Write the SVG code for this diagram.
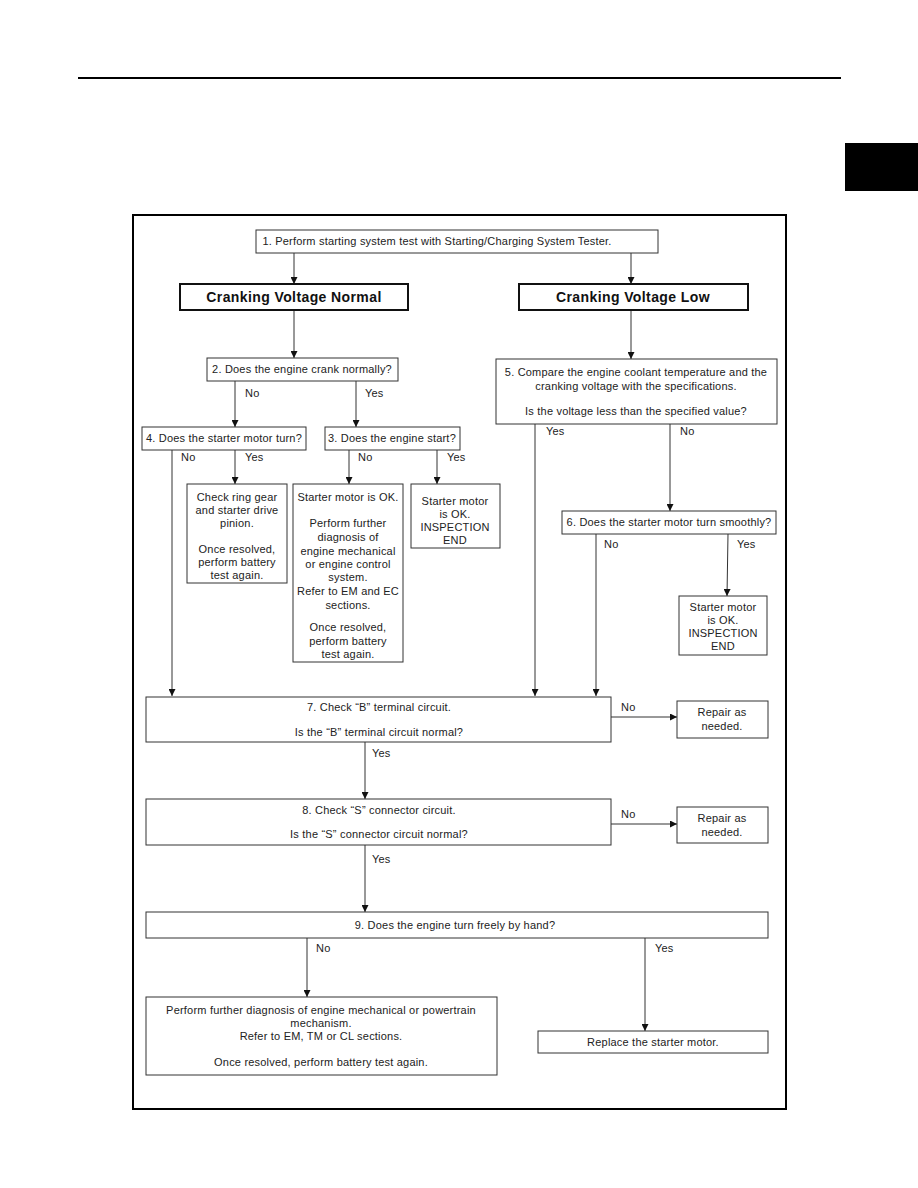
<svg xmlns="http://www.w3.org/2000/svg" width="918" height="1188" viewBox="0 0 918 1188">
<defs>
<marker id="ah" viewBox="0 0 8 8" refX="8" refY="4" markerWidth="8" markerHeight="7" markerUnits="userSpaceOnUse" orient="auto">
<path d="M0,0 L8,4 L0,8 Z" fill="#111"/>
</marker>
<style>
.b{fill:#fff;stroke:#333;stroke-width:1}
.h{fill:#fff;stroke:#111;stroke-width:2}
.t{font-family:"Liberation Sans",Arial,sans-serif;font-size:11px;letter-spacing:0.2px;fill:#222;text-anchor:middle}
.l{font-family:"Liberation Sans",Arial,sans-serif;font-size:11px;letter-spacing:0.2px;fill:#222}
.hb{font-family:"Liberation Sans",Arial,sans-serif;font-size:14px;letter-spacing:0.4px;font-weight:bold;fill:#111;text-anchor:middle}
.c{fill:none;stroke:#333;stroke-width:1;marker-end:url(#ah)}
</style>
</defs>
<rect width="918" height="1188" fill="#fff"/>
<line x1="78" y1="78" x2="841" y2="78" stroke="#000" stroke-width="2"/>
<rect x="845" y="143" width="73" height="48" fill="#000"/>
<rect x="133" y="215" width="653" height="894" fill="none" stroke="#000" stroke-width="2"/>

<g id="connectors">
<path class="c" d="M294,253 V284"/>
<path class="c" d="M631,253 V284"/>
<path class="c" d="M294,310 V358"/>
<path class="c" d="M631,310 V359"/>
<path class="c" d="M235,381 V427"/>
<path class="c" d="M356,381 V427"/>
<path class="c" d="M172,450 V696"/>
<path class="c" d="M235,450 V484"/>
<path class="c" d="M349,450 V484"/>
<path class="c" d="M437,450 V484"/>
<path class="c" d="M535,424 V696"/>
<path class="c" d="M670,424 V511"/>
<path class="c" d="M596,534 V696"/>
<path class="c" d="M728,534 L727,596"/>
<path class="c" d="M611,717 H677"/>
<path class="c" d="M365,742 V799"/>
<path class="c" d="M611,824 H677"/>
<path class="c" d="M365,845 V912"/>
<path class="c" d="M307,938 V997"/>
<path class="c" d="M645,938 V1031"/>
<text class="l" x="245" y="397">No</text>
<text class="l" x="365" y="397">Yes</text>
<text class="l" x="181" y="461">No</text>
<text class="l" x="245" y="461">Yes</text>
<text class="l" x="358" y="461">No</text>
<text class="l" x="447" y="461">Yes</text>
<text class="l" x="546" y="435">Yes</text>
<text class="l" x="680" y="435">No</text>
<text class="l" x="604" y="548">No</text>
<text class="l" x="737" y="548">Yes</text>
<text class="l" x="621" y="711">No</text>
<text class="l" x="372" y="757">Yes</text>
<text class="l" x="621" y="818">No</text>
<text class="l" x="372" y="863">Yes</text>
<text class="l" x="316" y="952">No</text>
<text class="l" x="655" y="952">Yes</text>
</g>

<g id="n1"><rect class="b" x="256" y="230" width="402" height="23"/>
<text class="t" x="437" y="245">1. Perform starting system test with Starting/Charging System Tester.</text></g>

<g id="normal"><rect class="h" x="180" y="284" width="228" height="26"/>
<text class="hb" x="294" y="302">Cranking Voltage Normal</text></g>

<g id="low"><rect class="h" x="519" y="284" width="229" height="26"/>
<text class="hb" x="633" y="302">Cranking Voltage Low</text></g>

<g id="n2"><rect class="b" x="207" y="358" width="191" height="23"/>
<text class="t" x="302" y="373">2. Does the engine crank normally?</text></g>

<g id="n5"><rect class="b" x="496" y="359" width="281" height="65"/>
<text class="t" x="636" y="376">5. Compare the engine coolant temperature and the</text>
<text class="t" x="636" y="390">cranking voltage with the specifications.</text>
<text class="t" x="636" y="415">Is the voltage less than the specified value?</text></g>

<g id="n4"><rect class="b" x="142" y="427" width="164" height="23"/>
<text class="t" x="224" y="442">4. Does the starter motor turn?</text></g>

<g id="n3"><rect class="b" x="325" y="427" width="135" height="23"/>
<text class="t" x="392" y="442">3. Does the engine start?</text></g>

<g id="ring"><rect class="b" x="187" y="484" width="100" height="99"/>
<text class="t" x="237" y="501">Check ring gear</text>
<text class="t" x="237" y="514">and starter drive</text>
<text class="t" x="237" y="527">pinion.</text>
<text class="t" x="237" y="553">Once resolved,</text>
<text class="t" x="237" y="566">perform battery</text>
<text class="t" x="237" y="579">test again.</text></g>

<g id="okfurther"><rect class="b" x="293" y="484" width="110" height="178"/>
<text class="t" x="348" y="501">Starter motor is OK.</text>
<text class="t" x="348" y="527">Perform further</text>
<text class="t" x="348" y="541">diagnosis of</text>
<text class="t" x="348" y="555">engine mechanical</text>
<text class="t" x="348" y="568">or engine control</text>
<text class="t" x="348" y="581">system.</text>
<text class="t" x="348" y="595">Refer to EM and EC</text>
<text class="t" x="348" y="609">sections.</text>
<text class="t" x="348" y="631">Once resolved,</text>
<text class="t" x="348" y="645">perform battery</text>
<text class="t" x="348" y="658">test again.</text></g>

<g id="ok1"><rect class="b" x="411" y="484" width="89" height="64"/>
<text class="t" x="455" y="505">Starter motor</text>
<text class="t" x="455" y="518">is OK.</text>
<text class="t" x="455" y="531">INSPECTION</text>
<text class="t" x="455" y="544">END</text></g>

<g id="n6"><rect class="b" x="562" y="511" width="214" height="23"/>
<text class="t" x="669" y="526">6. Does the starter motor turn smoothly?</text></g>

<g id="ok2"><rect class="b" x="679" y="596" width="88" height="59"/>
<text class="t" x="723" y="611">Starter motor</text>
<text class="t" x="723" y="624">is OK.</text>
<text class="t" x="723" y="637">INSPECTION</text>
<text class="t" x="723" y="650">END</text></g>

<g id="n7"><rect class="b" x="146" y="697" width="465" height="45"/>
<text class="t" x="379" y="711">7. Check “B” terminal circuit.</text>
<text class="t" x="379" y="736">Is the “B” terminal circuit normal?</text></g>

<g id="rep1"><rect class="b" x="677" y="701" width="91" height="37"/>
<text class="t" x="722" y="716">Repair as</text>
<text class="t" x="722" y="730">needed.</text></g>

<g id="n8"><rect class="b" x="146" y="799" width="465" height="46"/>
<text class="t" x="379" y="814">8. Check “S” connector circuit.</text>
<text class="t" x="379" y="838">Is the “S” connector circuit normal?</text></g>

<g id="rep2"><rect class="b" x="677" y="807" width="91" height="36"/>
<text class="t" x="722" y="822">Repair as</text>
<text class="t" x="722" y="836">needed.</text></g>

<g id="n9"><rect class="b" x="146" y="912" width="622" height="26"/>
<text class="t" x="455" y="929">9. Does the engine turn freely by hand?</text></g>

<g id="further"><rect class="b" x="146" y="997" width="351" height="78"/>
<text class="t" x="321" y="1014">Perform further diagnosis of engine mechanical or powertrain</text>
<text class="t" x="321" y="1027">mechanism.</text>
<text class="t" x="321" y="1040">Refer to EM, TM or CL sections.</text>
<text class="t" x="321" y="1066">Once resolved, perform battery test again.</text></g>

<g id="replace"><rect class="b" x="538" y="1031" width="230" height="22"/>
<text class="t" x="653" y="1046">Replace the starter motor.</text></g>
</svg>
